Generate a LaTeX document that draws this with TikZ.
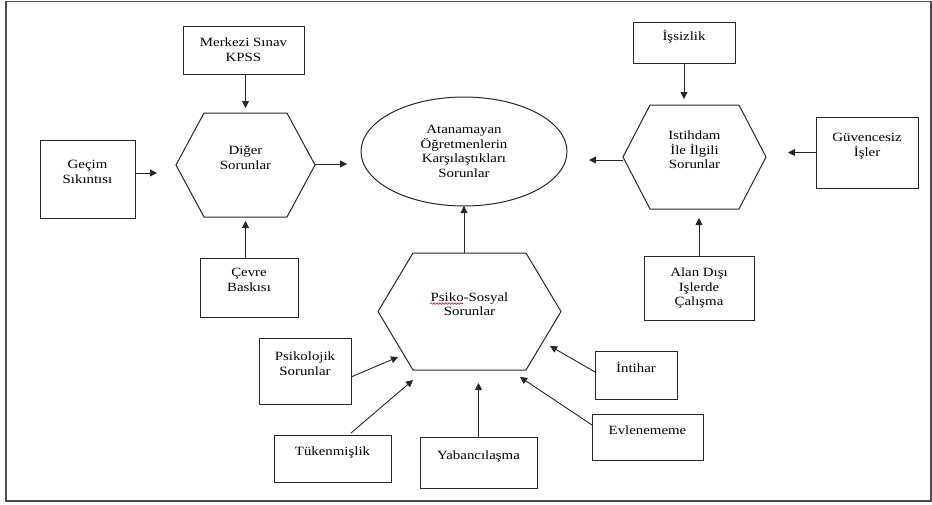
\documentclass[tikz,border=0pt]{standalone}
\usepackage{fontspec}
\setmainfont[FakeStretch=1.18]{Liberation Serif}
\usetikzlibrary{positioning,arrows.meta,shapes.geometric,decorations.pathmorphing}

\begin{document}
\begin{tikzpicture}[
  x=1pt, y=-1pt,
  txt/.style={align=center, font=\fontsize{12.6}{14.7}\selectfont, inner sep=0pt, outer sep=0pt},
  box/.style={txt, rectangle, draw=black!85, line width=1pt},
  goal/.style={txt, ellipse, draw=black!85, line width=1pt},
  hexa/.style={txt, append after command={\pgfextra{%
    \draw[black!85, line width=1pt] ([xshift=#1]\tikzlastnode.north west)
      -- ([xshift=-#1]\tikzlastnode.north east) -- (\tikzlastnode.east)
      -- ([xshift=-#1]\tikzlastnode.south east) -- ([xshift=#1]\tikzlastnode.south west)
      -- (\tikzlastnode.west) -- cycle;}}},
  arr/.style={-{Triangle[length=7pt,width=7pt]}, line width=0.9pt, draw=black!85},
  squig/.style={red!80!black, line width=0.6pt, decorate, decoration={snake, amplitude=0.8pt, segment length=3pt}},
]
\useasboundingbox (0,0) rectangle (932,504);
\draw[black!70, line width=1.5pt] (6,1.5) rectangle (931,501);

% Centre
\node[goal, minimum width=206pt, minimum height=109pt] (ell) at (464,151.5)
  {Atanamayan\\Öğretmenlerin\\Karşılaştıkları\\Sorunlar};

% Left group
\node[hexa=28pt, minimum width=139pt, minimum height=104pt] (digr) at (245.5,165) {Diğer\\Sorunlar\\~};
\node[box, minimum width=121pt, minimum height=48pt] (merk) at (243.5,50) {Merkezi Sınav\\KPSS};
\node[box, minimum width=95pt, minimum height=78pt] (gecim) at (87.5,179) {Geçim\\Sıkıntısı\\~};
\node[box, minimum width=98pt, minimum height=59pt] (cevre) at (249,287.5) {Çevre\\Baskısı\\~};

% Right group
\node[hexa=27pt, minimum width=143pt, minimum height=104pt] (istih) at (694.5,157) {Istihdam\\İle İlgili\\Sorunlar\\~};
\node[box, minimum width=102pt, minimum height=41pt] (issiz) at (684,42.5) {İşsizlik\\~};
\node[box, minimum width=102pt, minimum height=71pt] (guven) at (867,152.5) {Güvencesiz\\İşler\\~};
\node[box, minimum width=110pt, minimum height=64pt] (alan) at (699,288) {Alan Dışı\\Işlerde\\Çalışma};

% Bottom group
\node[hexa=35pt, minimum width=183pt, minimum height=117pt] (psiko) at (469.5,311.5) {Psiko-Sosyal\\Sorunlar\\~};
\node[box, minimum width=92pt, minimum height=66pt] (psikol) at (305,371) {Psikolojik\\Sorunlar\\~};
\node[box, minimum width=117pt, minimum height=47pt] (tuken) at (332.5,458.5) {Tükenmişlik\\~};
\node[box, minimum width=117pt, minimum height=51pt] (yaban) at (478.5,462.5) {Yabancılaşma\\~};
\node[box, minimum width=82pt, minimum height=48pt] (intih) at (636,375) {İntihar\\~};
\node[box, minimum width=111pt, minimum height=46pt] (evlen) at (647.5,437) {Evlenememe\\~};

% spell-check mark under Psiko
\draw[squig] ([shift={(-39.5,-8)}]psiko.center) -- ([shift={(-6.5,-8)}]psiko.center);

% Arrow tips round the lower hexagon
\coordinate (tp-psk) at (398,357);
\coordinate (tp-tuk) at (413,380);
\coordinate (tp-int) at (550,346);
\coordinate (tp-evl) at (520,377);

% Arrows: left
\draw[arr, shorten >=19pt] ([yshift=6pt]gecim.east) -- ([yshift=6pt]gecim.east -| digr.west);
\draw[arr, shorten >=5pt] (merk.south -| digr.north) -- (digr.north);
\draw[arr, shorten >=4pt] (cevre.north -| digr.south) -- (digr.south);
\draw[arr, shorten >=14pt] ([yshift=1pt]digr.east) -- ([yshift=1pt]digr.east -| ell.west);

% Arrows: right
\draw[arr, shorten >=6pt] (issiz.south) -- (issiz.south |- istih.north);
\draw[arr, shorten >=22pt] (guven.west) -- (guven.west -| istih.east);
\draw[arr, shorten >=22pt] ([yshift=-3pt]istih.west) -- ([yshift=-3pt]istih.west -| ell.east);
\draw[arr, shorten >=9pt] (alan.north) -- (alan.north |- istih.south);

% Arrows: bottom
\draw[arr] (psiko.north -| ell.south) -- (ell.south);
\draw[arr] ([yshift=-6pt]psikol.east) -- (tp-psk);
\draw[arr] ([xshift=18.5pt,yshift=2pt]tuken.north) -- (tp-tuk);
\draw[arr, shorten >=13pt] (yaban.north) -- (yaban.north |- psiko.south);
\draw[arr] ([yshift=3pt]intih.west) -- (tp-int);
\draw[arr] ([yshift=12pt]evlen.west) -- (tp-evl);

\end{tikzpicture}
\end{document}
